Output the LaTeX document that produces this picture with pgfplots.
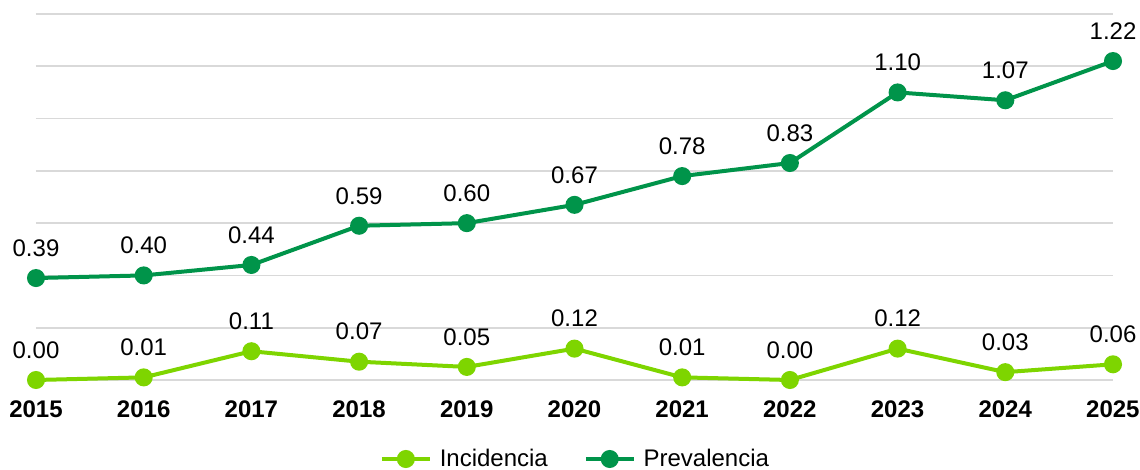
\documentclass[border=0pt]{standalone}
\usepackage{fontspec}
\setmainfont{Liberation Sans}
\usepackage{pgfplots}
\pgfplotsset{compat=1.18}
\definecolor{inc}{HTML}{7ED500}
\definecolor{prev}{HTML}{00944A}
\definecolor{gridgray}{HTML}{D9D9D9}
\begin{document}
\begin{tikzpicture}
\useasboundingbox (0pt,0pt) rectangle (570pt,235pt);
\begin{axis}[
  at={(18pt,45pt)}, anchor=origin,
  scale only axis, width=538.5pt, height=183pt,
  xmin=2015, xmax=2025, ymin=0, ymax=1.4,
  axis line style={draw=none},
  xtick={2015,...,2025},
  xticklabel style={font=\fontsize{12}{14}\selectfont\bfseries, yshift=-7pt},
  x tick label style={/pgf/number format/1000 sep={}},
  /pgf/number format/assume math mode=true,
  ytick={0,0.2,...,1.4}, yticklabels={},
  major tick length=0pt,
  xmajorgrids=false, ymajorgrids=true,
  major grid style={draw=gridgray, line width=0.8pt},
  clip=false,
  nodes near coords,
  nodes near coords style={font=\fontsize{12}{14}\selectfont, text=black, anchor=center, yshift=15pt,
    /pgf/number format/.cd, fixed, fixed zerofill, precision=2},
  legend style={at={(0.5,0)}, anchor=center, xshift=2pt, yshift=-39.5pt, draw=none, legend columns=2,
    font=\fontsize{12}{14}\selectfont, /tikz/every even column/.append style={column sep=14pt},
    nodes={inner xsep=4pt}},
  legend image code/.code={\draw[#1, mark repeat=2, mark phase=2] plot coordinates {(0cm,0cm) (0.42cm,0cm) (0.84cm,0cm)};},
]
\addplot[inc, line width=2pt, mark=*, mark size=3.5pt] coordinates {
(2015,0.00) (2016,0.01) (2017,0.11) (2018,0.07) (2019,0.05) (2020,0.12) (2021,0.01) (2022,0.00) (2023,0.12) (2024,0.03) (2025,0.06)};
\addlegendentry{Incidencia}
\addplot[prev, line width=2pt, mark=*, mark size=3.5pt] coordinates {
(2015,0.39) (2016,0.40) (2017,0.44) (2018,0.59) (2019,0.60) (2020,0.67) (2021,0.78) (2022,0.83) (2023,1.10) (2024,1.07) (2025,1.22)};
\addlegendentry{Prevalencia}
\end{axis}
\end{tikzpicture}
\end{document}
